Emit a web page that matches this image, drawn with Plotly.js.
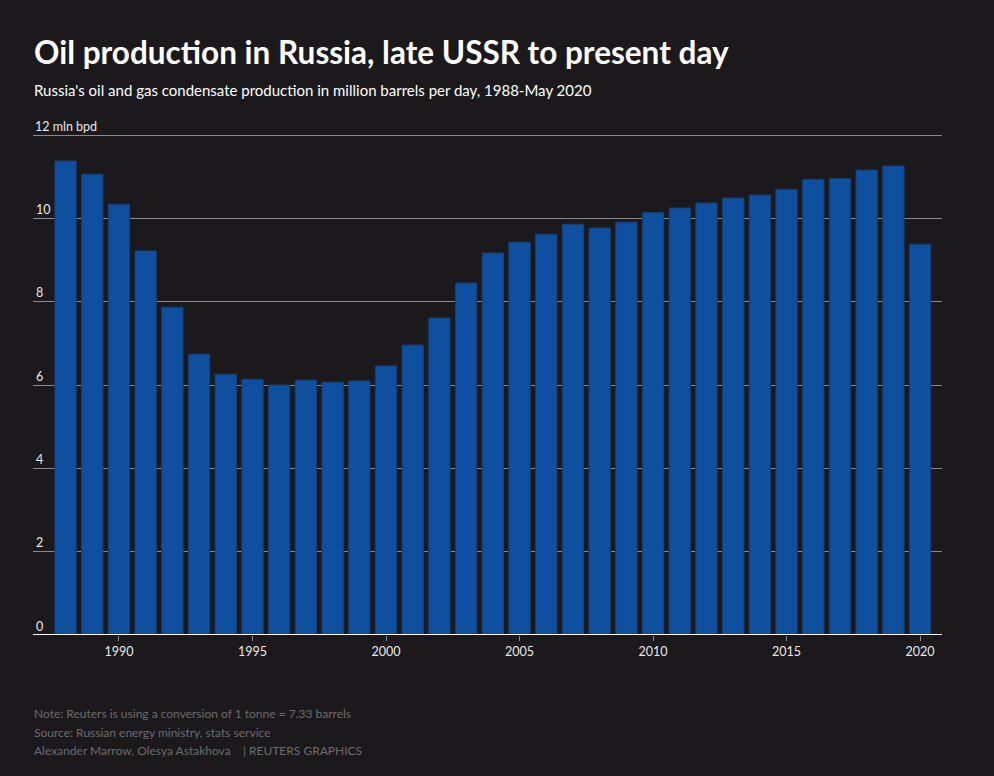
<!DOCTYPE html>
<html>
<head>
<meta charset="utf-8">
<script src="https://cdn.plot.ly/plotly-3.0.1.min.js"></script>
<style>html,body{margin:0;padding:0;background:#1b191c;}</style>
</head>
<body>
<div id="chart" style="width:994px;height:776px;"></div>
<script>
const years = [1988,1989,1990,1991,1992,1993,1994,1995,1996,1997,1998,1999,2000,2001,2002,2003,2004,2005,2006,2007,2008,2009,2010,2011,2012,2013,2014,2015,2016,2017,2018,2019,2020];
const production = [11.38,11.06,10.34,9.22,7.87,6.74,6.26,6.14,6.00,6.12,6.07,6.10,6.46,6.96,7.61,8.45,9.17,9.43,9.62,9.86,9.77,9.91,10.14,10.25,10.37,10.49,10.56,10.70,10.94,10.96,11.16,11.26,9.38];
const yTickVals = [0,2,4,6,8,10,12];
const yTickText = ['0','2','4','6','8','10',''];
const yTopLabel = '12 mln bpd';
const xTickVals = [1990,1995,2000,2005,2010,2015,2020];

const FONT = 'Lato, "Open Sans", sans-serif';
const data = [{
  type: 'bar',
  x: years,
  y: production,
  marker: {color: '#0f4f9f', line: {color: '#173e70', width: 1}},
  hoverinfo: 'x+y'
}];
const layout = {
  width: 994, height: 776,
  paper_bgcolor: '#1b191c', plot_bgcolor: '#1b191c',
  margin: {l: 33, r: 52, t: 133, b: 141},
  bargap: 0.2,
  showlegend: false,
  font: {family: FONT, color: '#ffffff'},
  xaxis: {
    range: [1986.78, 2020.82],
    tickvals: xTickVals,
    ticks: 'outside', ticklen: 5, tickcolor: '#888', tickwidth: 1,
    tickfont: {size: 12.5, color: '#e8e8e8', family: FONT},
    showgrid: false, zeroline: false,
    showline: false, fixedrange: true
  },
  yaxis: {
    range: [0, 12.05],
    tickvals: yTickVals, ticktext: yTickText,
    ticklabelposition: 'inside top',
    tickfont: {size: 12.5, color: '#e8e8e8', family: FONT},
    showgrid: true, gridcolor: '#8a8a8a', gridwidth: 1,
    zeroline: false,
    layer: 'below traces',
    showline: false, ticks: ''
  },
  shapes: [
    {type: 'line', xref: 'paper', yref: 'y', x0: 0, x1: 1, y0: 0, y1: 0, line: {color: '#ffffff', width: 2}, layer: 'above'}
  ],
  annotations: [
    {text: yTopLabel, xref: 'paper', yref: 'y', x: 0, y: 12, yshift: 9, xanchor: 'left', yanchor: 'middle', showarrow: false, font: {size: 12.5, color: '#e8e8e8', family: FONT}},
    {text: '<b>Oil production in Russia, late USSR to present day</b>', xref: 'paper', yref: 'paper', x: -0.001, y: 1, yshift: 81, xanchor: 'left', yanchor: 'middle', showarrow: false, font: {size: 31.5, color: '#ffffff', family: FONT}},
    {text: "Russia's oil and gas condensate production in million barrels per day, 1988-May 2020", xref: 'paper', yref: 'paper', x: -0.001, y: 1, yshift: 43, xanchor: 'left', yanchor: 'middle', showarrow: false, font: {size: 15, color: '#ffffff', family: FONT}},
    {text: 'Note: Reuters is using a conversion of 1 tonne = 7.33 barrels', xref: 'paper', yref: 'paper', x: -0.001, y: 0, yshift: -78, xanchor: 'left', yanchor: 'middle', showarrow: false, font: {size: 12, color: '#6b6b6b', family: FONT}},
    {text: 'Source: Russian energy ministry, stats service', xref: 'paper', yref: 'paper', x: -0.001, y: 0, yshift: -97, xanchor: 'left', yanchor: 'middle', showarrow: false, font: {size: 12, color: '#6b6b6b', family: FONT}},
    {text: 'Alexander Marrow, Olesya Astakhova    | REUTERS GRAPHICS', xref: 'paper', yref: 'paper', x: -0.001, y: 0, yshift: -115, xanchor: 'left', yanchor: 'middle', showarrow: false, font: {size: 12, color: '#6b6b6b', family: FONT}}
  ]
};
Plotly.newPlot('chart', data, layout, {displayModeBar: false, staticPlot: true});
</script>
</body>
</html>
